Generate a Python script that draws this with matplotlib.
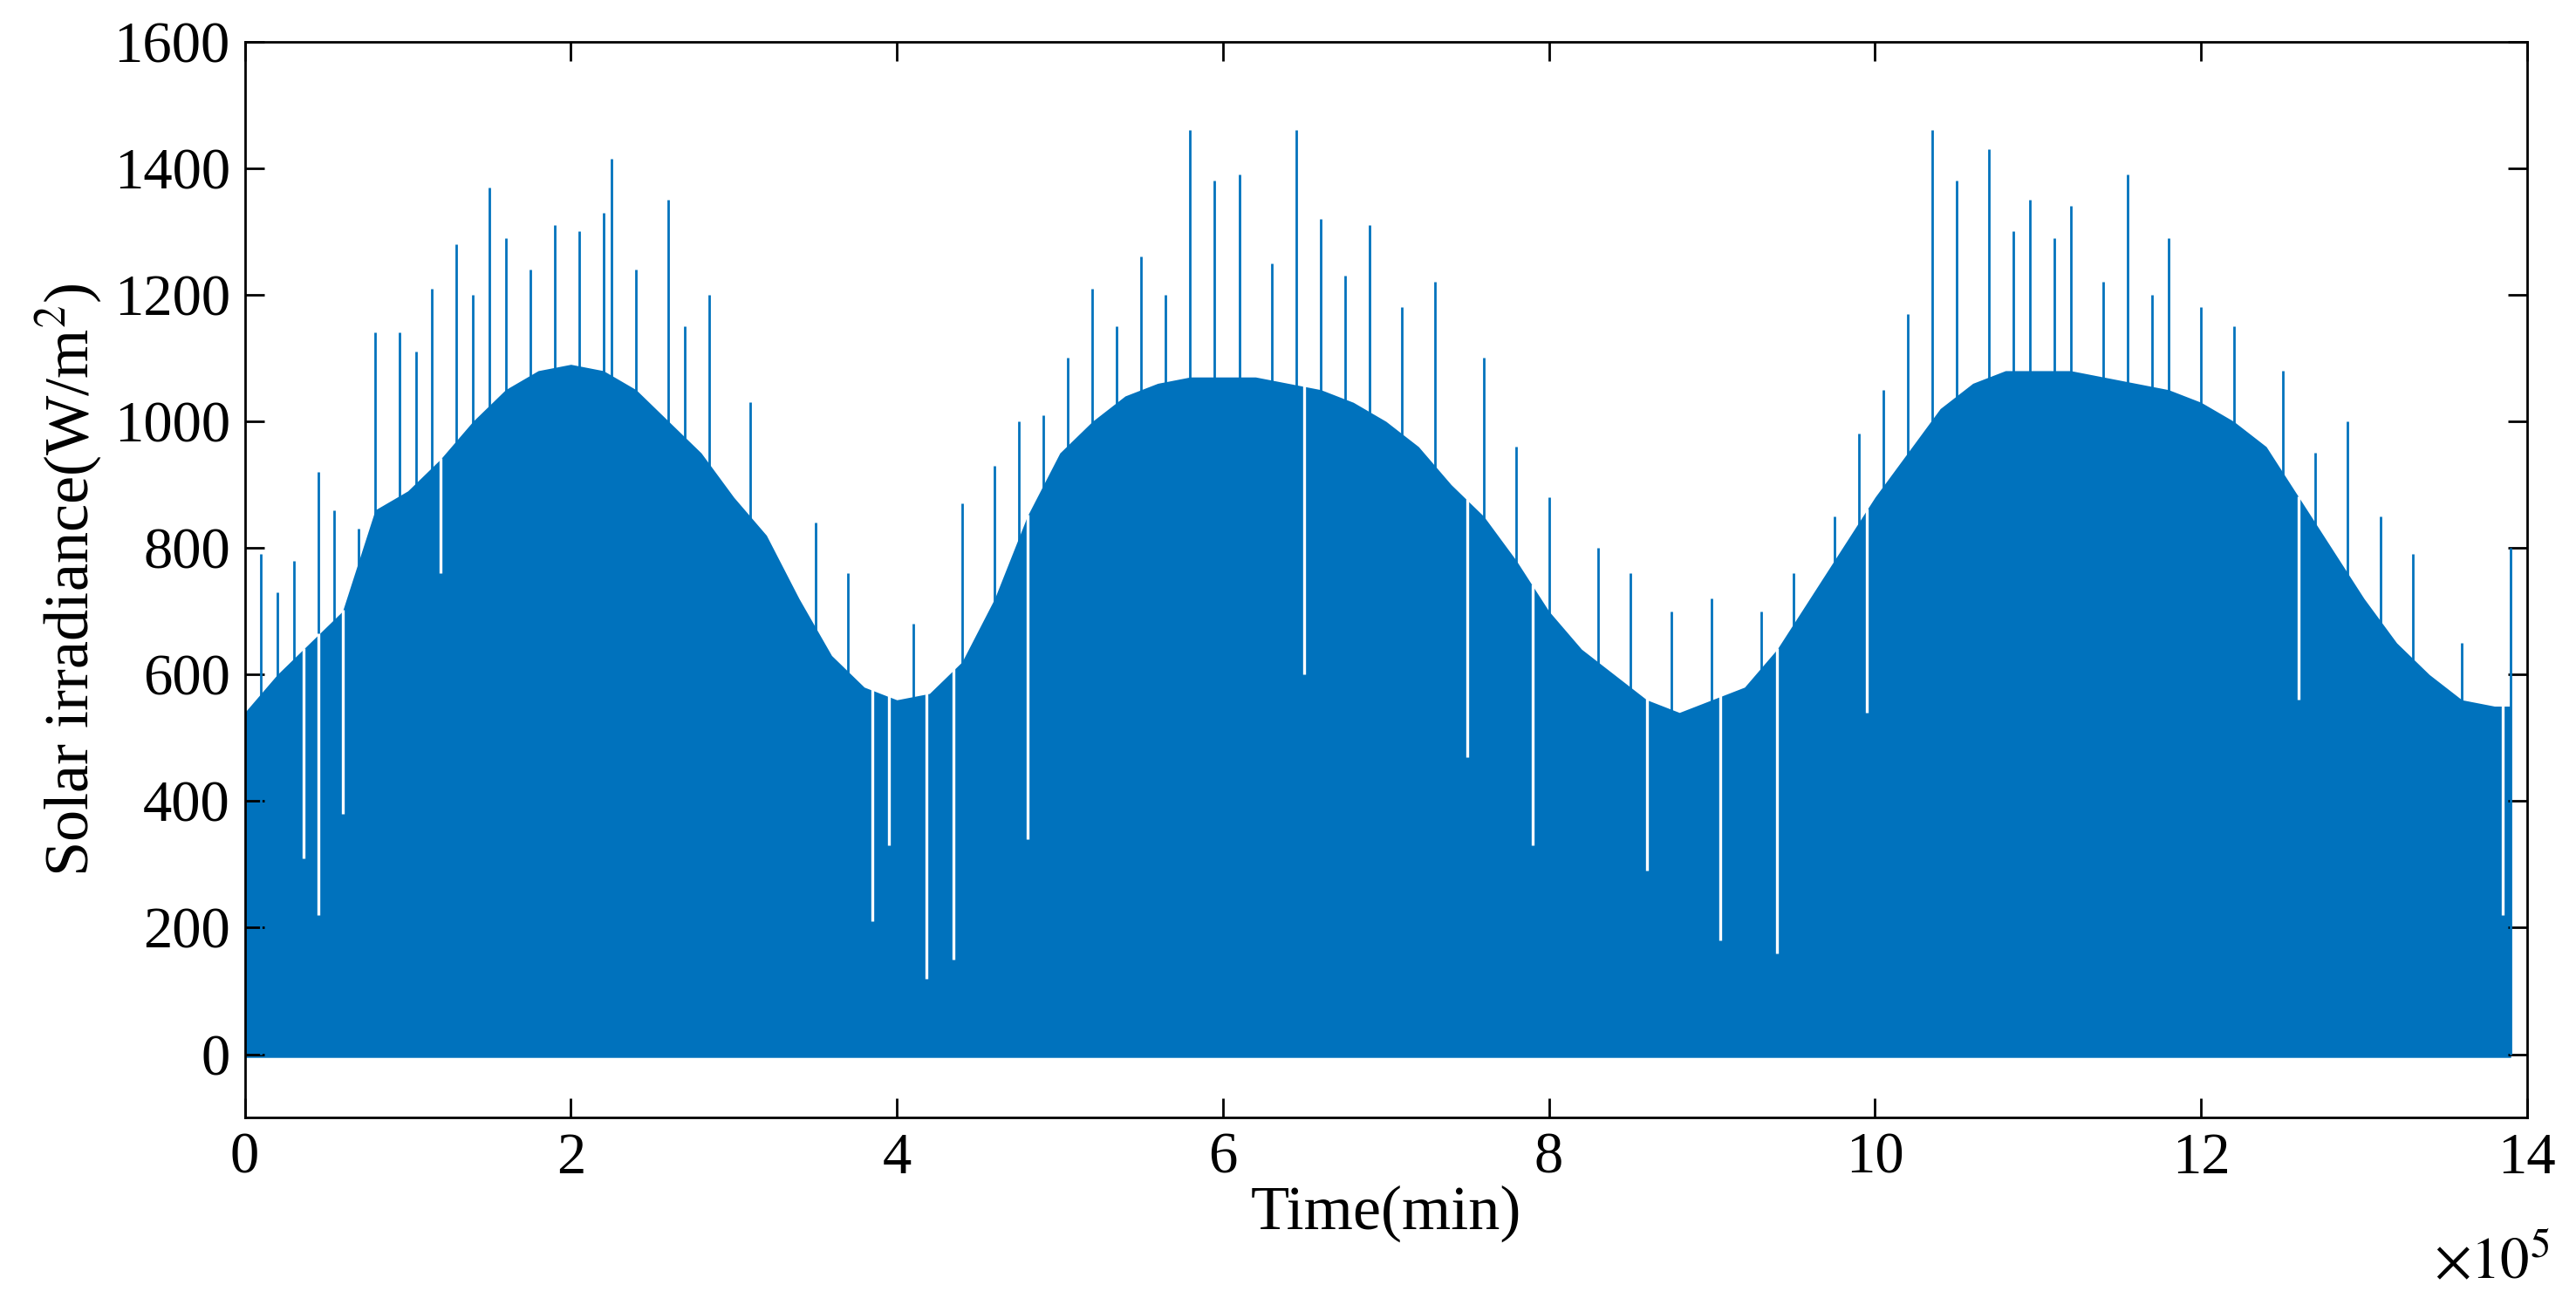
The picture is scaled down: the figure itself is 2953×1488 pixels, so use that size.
import matplotlib
matplotlib.use("Agg")
import matplotlib.pyplot as plt
import numpy as np

plt.rcParams['font.family'] = ['Liberation Serif', 'DejaVu Serif']
plt.rcParams['mathtext.fontset'] = 'stix'

# upper envelope of the dense irradiance trace (x in 1e5 min, W/m^2)
env_x = [0, 0.2, 0.4, 0.6, 0.8, 1.0, 1.2, 1.4, 1.6, 1.8, 2.0, 2.2, 2.4, 2.6, 2.8, 3.0, 3.2, 3.4, 3.6, 3.8,
         4.0, 4.2, 4.4, 4.6, 4.8, 5.0, 5.2, 5.4, 5.6, 5.8, 6.0, 6.2, 6.4, 6.6, 6.8, 7.0, 7.2, 7.4, 7.6, 7.8,
         8.0, 8.2, 8.4, 8.6, 8.8, 9.0, 9.2, 9.4, 9.6, 9.8, 10.0, 10.2, 10.4, 10.6, 10.8, 11.0, 11.2, 11.4,
         11.6, 11.8, 12.0, 12.2, 12.4, 12.6, 12.8, 13.0, 13.2, 13.4, 13.6, 13.8, 13.9]
env_y = [540, 600, 650, 700, 860, 890, 940, 1000, 1050, 1080, 1090, 1080, 1050, 1000, 950, 880, 820, 720, 630, 580,
         560, 570, 620, 720, 850, 950, 1000, 1040, 1060, 1070, 1070, 1070, 1060, 1050, 1030, 1000, 960, 900, 850, 780,
         700, 640, 600, 560, 540, 560, 580, 640, 720, 800, 880, 950, 1020, 1060, 1080, 1080, 1080, 1070,
         1060, 1050, 1030, 1000, 960, 880, 800, 720, 650, 600, 560, 550, 550]
# isolated upward spikes
spike_x = [0.1, 0.2, 0.3, 0.45, 0.55, 0.7, 0.8, 0.95, 1.05, 1.15, 1.3, 1.4, 1.5, 1.6, 1.75, 1.9, 2.05, 2.2, 2.25, 2.4, 2.6, 2.7, 2.85, 3.1, 3.5, 3.7,
           4.1, 4.4, 4.6, 4.75, 4.9, 5.05, 5.2, 5.35, 5.5, 5.65, 5.8, 5.95, 6.1, 6.3, 6.45, 6.6, 6.75, 6.9, 7.1, 7.3, 7.6, 7.8, 8.0, 8.3, 8.5, 8.75, 9.0, 9.3, 9.5,
           9.75, 9.9, 10.05, 10.2, 10.35, 10.5, 10.7, 10.85, 10.95, 11.1, 11.2, 11.4, 11.55, 11.7, 11.8, 12.0, 12.2, 12.5, 12.7, 12.9, 13.1, 13.3, 13.6, 13.9]
spike_y = [790, 730, 780, 920, 860, 830, 1140, 1140, 1110, 1210, 1280, 1200, 1370, 1290, 1240, 1310, 1300, 1330, 1415, 1240, 1350, 1150, 1200, 1030, 840, 760,
           680, 870, 930, 1000, 1010, 1100, 1210, 1150, 1260, 1200, 1460, 1380, 1390, 1250, 1460, 1320, 1230, 1310, 1180, 1220, 1100, 960, 880, 800, 760, 700, 720, 700, 760,
           850, 980, 1050, 1170, 1460, 1380, 1430, 1300, 1350, 1290, 1340, 1220, 1390, 1200, 1290, 1180, 1150, 1080, 950, 1000, 850, 790, 650, 800]
# white dips (gaps) inside the fill
dip_x = [0.36, 0.45, 0.6, 1.2, 3.85, 3.95, 4.18, 4.35, 4.8, 6.5, 7.5, 7.9, 8.6, 9.05, 9.4, 9.95, 12.6, 13.85]
dip_y = [310, 220, 380, 760, 210, 330, 120, 150, 340, 600, 470, 330, 290, 180, 160, 540, 560, 220]

xticks = [0, 2, 4, 6, 8, 10, 12, 14]
yticks = [0, 200, 400, 600, 800, 1000, 1200, 1400, 1600]

blue = '#0072BD'
fig = plt.figure(figsize=(14.765, 7.44), dpi=200)
ax = fig.add_axes([0.095, 0.139, 0.886, 0.829])
ex = np.array(env_x) * 1e5
ax.fill_between(ex, -5, env_y, color=blue, lw=0)
ax.vlines(np.array(spike_x) * 1e5, 0, spike_y, color=blue, lw=1.0)
ax.vlines(np.array(dip_x) * 1e5, dip_y, np.interp(np.array(dip_x) * 1e5, ex, env_y) + 2, color='white', lw=1.2)

ax.set_xlim(0, 14e5)
ax.set_ylim(-100, 1600)
ax.set_xticks(np.array(xticks) * 1e5)
ax.set_xticklabels([str(t) for t in xticks])
ax.set_yticks(yticks)
ax.set_yticklabels([str(t) for t in yticks])
ax.tick_params(direction='in', top=True, right=True, labelsize=24, length=8, width=1, pad=6)
for s in ax.spines.values():
    s.set_linewidth(1)
ax.set_xlabel('Time(min)', fontsize=26, labelpad=0)
ax.set_ylabel('Solar irradiance(W/m$^2$)', fontsize=26, labelpad=4)
ax.text(1.01, -0.135, r'$\times10^5$', transform=ax.transAxes, ha='right', va='center', fontsize=24)
fig.savefig('out.png', dpi=200)
